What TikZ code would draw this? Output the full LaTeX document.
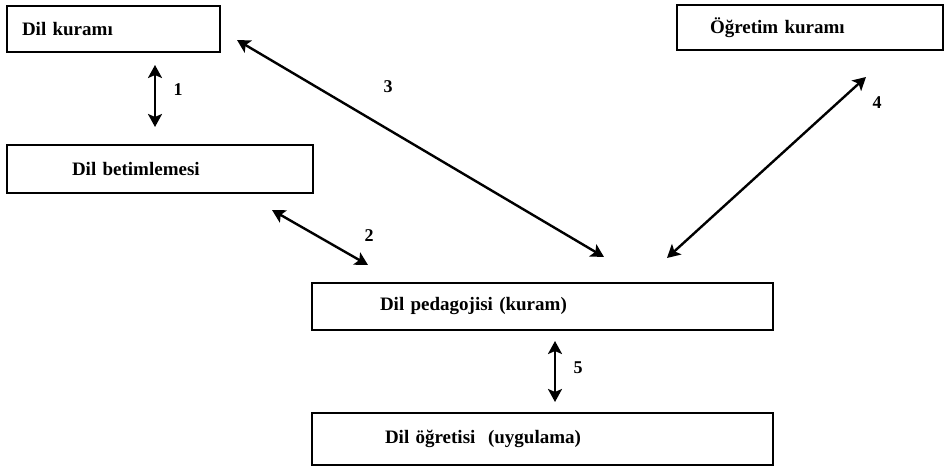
\documentclass[tikz,border=0pt]{standalone}
\usepackage{fontspec}
\setmainfont{Liberation Serif}
\usetikzlibrary{arrows.meta,positioning,calc}

\tikzset{
  box/.style={draw,line width=1.1pt,rectangle,align=left,inner ysep=0pt,
    font=\fontsize{9.5}{11}\selectfont\bfseries},
  link/.style={line width=1.2pt,{Stealth[length=6.5pt,width=7pt,inset=1.5pt]}-{Stealth[length=6.5pt,width=7pt,inset=1.5pt]}},
  num/.style={font=\fontsize{9}{11}\selectfont\bfseries,inner sep=0pt}
}

\begin{document}
\begin{tikzpicture}[x=0.5pt,y=-0.5pt,>=Stealth]
  \useasboundingbox (0,0) rectangle (947,469);
  % boxes
  \node[box,minimum width=106.5pt,minimum height=23pt,inner xsep=7.5pt,text width=91.5pt] (kuram) at (113.5,29) {Dil kuramı};
  \node[box,minimum width=153pt,minimum height=24pt,inner xsep=32.5pt,text width=88pt] (betim) at (160,169) {Dil betimlemesi};
  \node[box,minimum width=133pt,minimum height=22.5pt,inner xsep=16.5pt,text width=100pt] (ogrenim) at (810,27.5) {Öğretim kuramı};
  \node[box,minimum width=230.5pt,minimum height=23.5pt,inner xsep=34pt,text width=162.5pt] (pedag) at (542.5,306.5) {Dil pedagojisi (kuram)};
  \node[box,minimum width=230.5pt,minimum height=26pt,inner xsep=36.5pt,text width=157.5pt] (ogretisi) at (542.5,439) {Dil öğretisi\ \ (uygulama)};
  % arrow ends
  \coordinate (a1s) at (155,65);  \coordinate (a1e) at (155,127);
  \coordinate (a2s) at (272,210); \coordinate (a2e) at (368,265);
  \coordinate (a3s) at (237,40);  \coordinate (a3e) at (604,257);
  \coordinate (a4s) at (866,77);  \coordinate (a4e) at (667,258);
  \coordinate (a5s) at (555,341); \coordinate (a5e) at (555,402);
  % arrows
  \draw[link] (a1s) -- (a1e);
  \draw[link] (a2s) -- (a2e);
  \draw[link] (a3s) -- (a3e);
  \draw[link] (a4s) -- (a4e);
  \draw[link] (a5s) -- (a5e);
  % numbers
  \node[num] (n1) at (178,90) {1};
  \node[num] (n2) at (369,236) {2};
  \node[num] (n3) at (388,87) {3};
  \node[num] (n4) at (877,103) {4};
  \node[num] (n5) at (578,368) {5};
\end{tikzpicture}
\end{document}
